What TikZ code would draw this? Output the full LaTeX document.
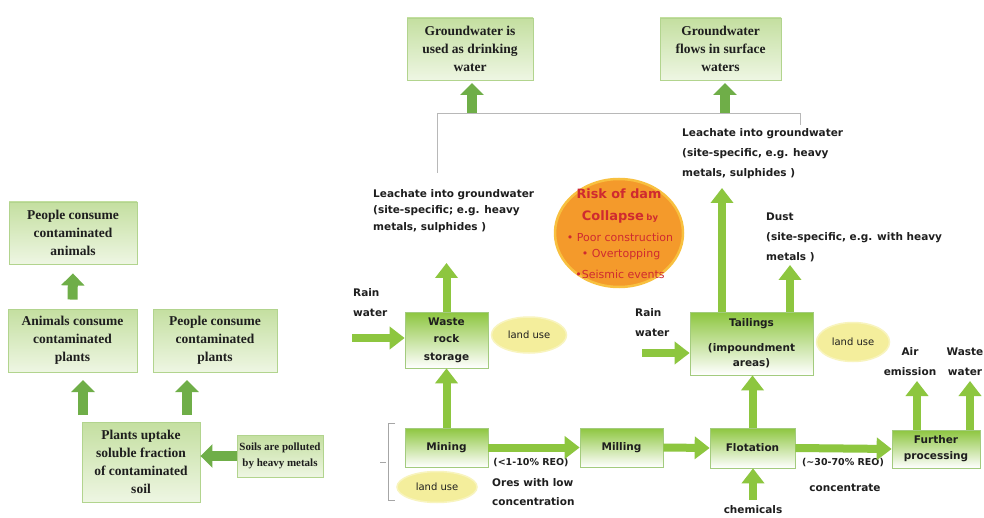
\documentclass[tikz,border=0pt]{standalone}
\usepackage{fontspec}
\setmainfont{Liberation Serif}
\newfontfamily\dvs{DejaVu Sans}
\usetikzlibrary{arrows.meta,shapes.geometric,calc}
\definecolor{gA}{HTML}{8DC63F}
\definecolor{gD}{HTML}{6FAE48}
\definecolor{rbord}{HTML}{A3CB7E}
\definecolor{ltop}{HTML}{C4DFA0}
\definecolor{lbot}{HTML}{EEF6E3}
\definecolor{lbord}{HTML}{B2D48E}
\definecolor{luse}{HTML}{F4EE9C}
\definecolor{lusebd}{HTML}{F8F4BE}
\definecolor{damfill}{HTML}{F49A2B}
\definecolor{damedge}{HTML}{F8C03F}
\definecolor{damred}{HTML}{CF2A30}
\definecolor{txt}{HTML}{1E1E1E}
\begin{document}
\begin{tikzpicture}[x=1pt,y=-1pt,
  lbox/.style={draw=lbord, line width=0.9pt, top color=ltop, bottom color=lbot,
    align=center, inner sep=1pt, text=txt,
    font=\fontsize{13.5}{18}\selectfont\bfseries},
  rbox/.style={draw=rbord, line width=0.7pt, top color=gA, middle color=gA!50, bottom color=white,
    align=center, inner sep=1pt, text=txt,
    font=\dvs\bfseries\fontsize{10.5}{17.5}\selectfont},
  lbl/.style={align=left, inner sep=0pt, text=txt,
    font=\dvs\bfseries\fontsize{10.5}{20}\selectfont},
  clbl/.style={align=center, inner sep=0pt, text=txt,
    font=\dvs\bfseries\fontsize{10.5}{20}\selectfont},
  landuse/.style={ellipse, fill=luse, draw=lusebd, line width=1.5pt, inner sep=0pt, text=txt,
    font=\dvs\fontsize{10}{12}\selectfont},
  fat/.style={draw=gA, line width=8pt, -{Triangle[width=22pt,length=15pt]}},
  fatL/.style={draw=gD, line width=10pt, -{Triangle[width=23pt,length=12pt]}},
  thin/.style={draw=black!35, line width=0.7pt},
  damtxt/.style={text=damred, inner sep=0pt}
]
\useasboundingbox[fill=white] (0,0) rectangle (984,518);

% ---------- left part ----------
\node[lbox, minimum width=128pt, minimum height=62pt] (pca) at (73,233) {People consume\\contaminated\\animals};
\node[lbox, minimum width=129pt, minimum height=63pt] (acp) at (72.5,340.5) {Animals consume\\contaminated\\plants};
\node[lbox, minimum width=124pt, minimum height=63pt] (pcp) at (215,340.5) {People consume\\contaminated\\plants};
\node[lbox, minimum width=118pt, minimum height=80pt] (plants) at (141,462) {Plants uptake\\soluble fraction\\of contaminated\\soil};
\node[lbox, minimum width=86pt, minimum height=42pt, font=\fontsize{11}{15.5}\selectfont\bfseries] (soils) at (280,456) {Soils are polluted\\by heavy metals};

\draw[fatL] ([yshift=9pt]acp.north) -- ([yshift=-9pt]pca.south);
\coordinate (ua1) at (83,415); \coordinate (ua2) at (83,380);
\coordinate (ub1) at (187,415); \coordinate (ub2) at (187,380);
\draw[fatL] (ua1) -- (ua2);
\draw[fatL] (ub1) -- (ub2);
\draw[fatL] (soils.west) -- (soils.west -| plants.east);

% bracket
\coordinate (bk1) at (395,423); \coordinate (bk2) at (388,423);
\coordinate (bk3) at (388,500); \coordinate (bk4) at (395,500);
\coordinate (bt1) at (380,462); \coordinate (bt2) at (386,462);
\draw[thin] (bk1) -- (bk2) -- (bk3) -- (bk4);
\draw[thin] (bt1) -- (bt2);

% ---------- top boxes ----------
\node[lbox, minimum width=126pt, minimum height=62pt] (gwd) at (470,49) {Groundwater is\\used as drinking\\water};
\node[lbox, minimum width=121pt, minimum height=62pt] (gws) at (720.5,49) {Groundwater\\flows in surface\\waters};
\coordinate (g1) at (472,113); \coordinate (g1e) at (472,83);
\coordinate (g2) at (725,113); \coordinate (g2e) at (725,83);
\draw[fatL] (g1) -- (g1e);
\draw[fatL] (g2) -- (g2e);
\coordinate (gl1) at (437,173); \coordinate (gl2) at (437,113);
\coordinate (gl3) at (800,113); \coordinate (gl4) at (800,125);
\draw[thin, draw=black!28] (gl1) -- (gl2) -- (gl3) -- (gl4);

% ---------- process boxes ----------
\node[rbox, minimum width=83pt, minimum height=56pt] (waste) at (446.5,340) {Waste\\rock\\storage};
\node[rbox, minimum width=83pt, minimum height=39pt] (mining) at (446.5,447.5) {Mining};
\node[rbox, minimum width=83pt, minimum height=39pt] (milling) at (621.5,447.5) {Milling};
\node[rbox, minimum width=85pt, minimum height=40pt] (flotation) at (752.5,448) {Flotation};
\node[rbox, minimum width=88pt, minimum height=38pt, font=\dvs\bfseries\fontsize{10.5}{16}\selectfont] (further) at (936,449) {Further\\processing};
\node[rbox, minimum width=123pt, minimum height=63pt, font=\dvs\bfseries\fontsize{10.5}{15}\selectfont] (tailings) at (751.5,343.5) {Tailings\\[10pt](impoundment\\areas)};

\node[landuse, minimum width=75pt, minimum height=36pt] (lu1) at (529,335) {land use};
\node[landuse, minimum width=73pt, minimum height=39pt] (lu2) at (853,342) {land use};
\node[landuse, minimum width=80pt, minimum height=31pt] (lu3) at (437,487) {land use};

% dam risk
\node[ellipse, fill=damfill, draw=damedge, line width=2.5pt, minimum width=128pt, minimum height=108pt] (dam) at (619,233) {};
\node[damtxt, font=\dvs\bfseries\fontsize{12.8}{14}\selectfont] (dam1) at (619,194) {Risk of dam};
\node[damtxt] (dam2) at (620,217) {{\dvs\bfseries\fontsize{13}{15}\selectfont Collapse} {\dvs\bfseries\fontsize{8.5}{10}\selectfont by}};
\node[damtxt, font=\dvs\fontsize{11}{13}\selectfont] (dam3) at (620,237) {• Poor construction};
\node[damtxt, font=\dvs\fontsize{11}{13}\selectfont] (dam4) at (621,254) {• Overtopping};
\node[damtxt, font=\dvs\fontsize{11}{13}\selectfont] (dam5) at (620,274) {•Seismic events};

% labels
\node[lbl, anchor=west, font=\dvs\bfseries\fontsize{10.5}{16.5}\selectfont] (leachL) at (373,211) {Leachate into groundwater\\(site-specific; e.g. heavy\\metals, sulphides )};
\node[lbl, anchor=west] (leachR) at (682,154) {Leachate into groundwater\\(site-specific, e.g. heavy\\metals, sulphides )};
\node[lbl, anchor=west] (dust) at (766,237) {Dust\\(site-specific, e.g. with heavy\\metals )};
\node[lbl, anchor=west] (rain1) at (353,303) {Rain\\water};
\node[lbl, anchor=west] (rain2) at (635,323) {Rain\\water};
\node[clbl, font=\dvs\bfseries\fontsize{9.5}{12}\selectfont] (reo1) at (531,463) {(<1-10\% REO)};
\node[lbl, anchor=west, font=\dvs\bfseries\fontsize{10.5}{19}\selectfont] (ores) at (492,492) {Ores with low\\concentration};
\node[clbl, font=\dvs\bfseries\fontsize{9.5}{12}\selectfont] (reo2) at (843,463) {(\textasciitilde30-70\% REO)};
\node[clbl] (conc) at (845,488) {concentrate};
\node[clbl] (chem) at (753,510) {chemicals};
\node[clbl] (air) at (910,362) {Air\\emission};
\node[clbl] (ww) at (965,362) {Waste\\water};

% process arrows
\draw[fat] (mining.north) -- (waste.south);
\coordinate (wtop) at (446.5,263);
\draw[fat] (waste.north) -- (wtop);
\draw[fat] (mining.east) -- (milling.west);
\draw[fat] (milling.east) -- (flotation.west);
\draw[fat] (flotation.east) -- (further.west);
\draw[fat] (flotation.north) -- (flotation.north |- tailings.south);
\coordinate (chb) at (753,500);
\draw[fat] (chb) -- (chb |- flotation.south);
\coordinate (r1s) at (352,338);
\draw[fat] (r1s) -- (r1s -| waste.west);
\coordinate (r2s) at (642,353);
\draw[fat] (r2s) -- (r2s -| tailings.west);
\coordinate (lrt) at (722,188);
\draw[fat] (lrt |- tailings.north) -- (lrt);
\coordinate (dst) at (790,265);
\draw[fat] (dst |- tailings.north) -- (dst);
\coordinate (a1) at (917,381);
\draw[fat] (a1 |- further.north) -- (a1);
\coordinate (a2) at (970,381);
\draw[fat] (a2 |- further.north) -- (a2);
\end{tikzpicture}
\end{document}
